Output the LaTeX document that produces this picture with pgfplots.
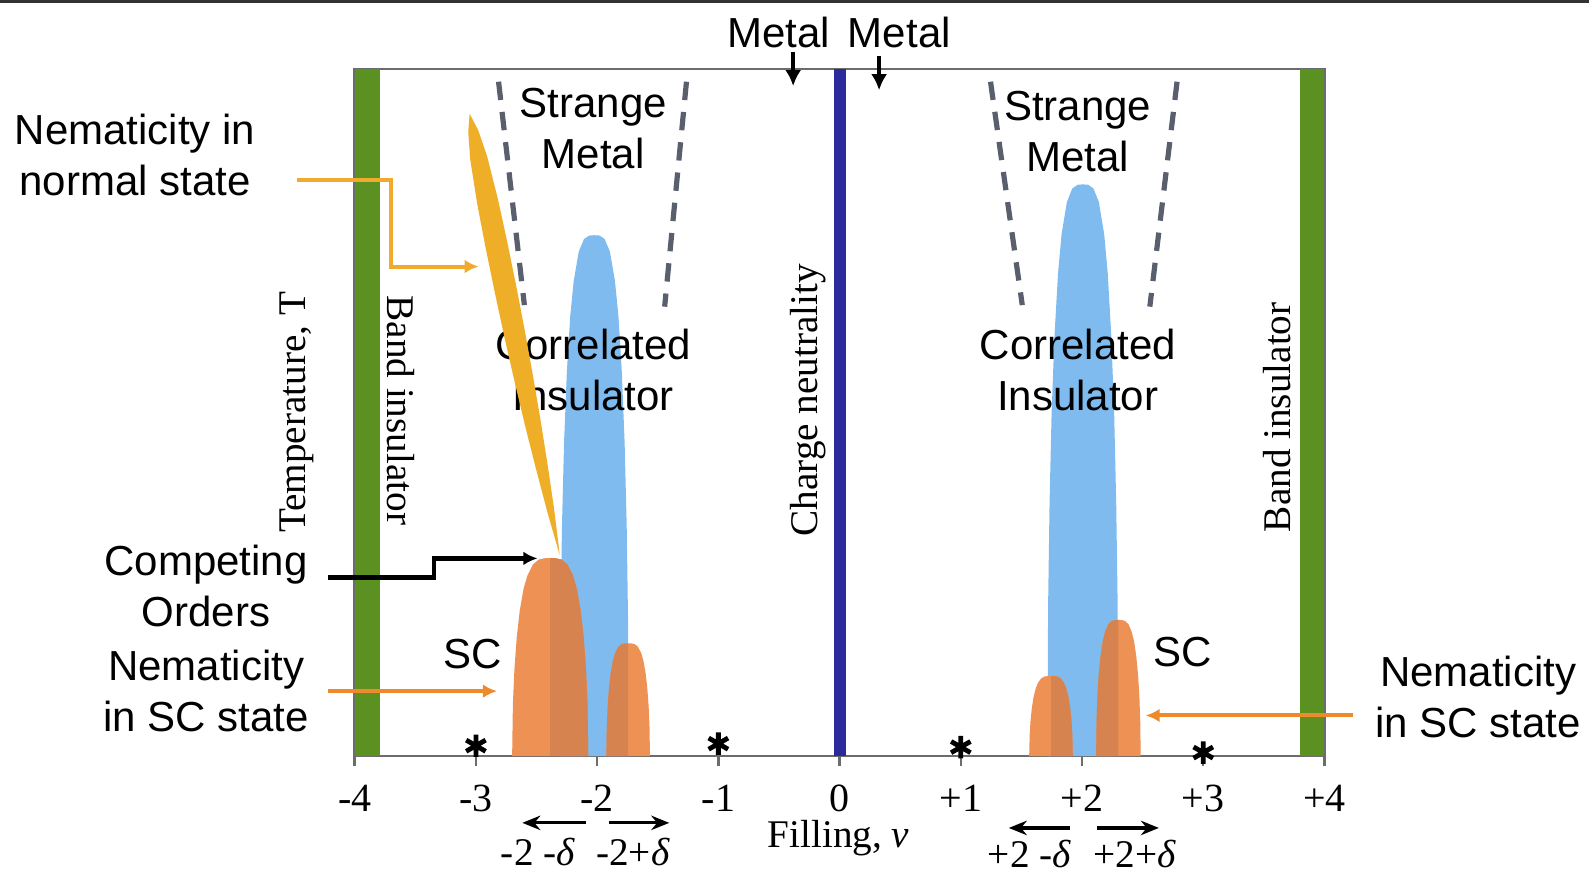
\documentclass[border=0pt]{standalone}
\usepackage{pgfplots}
\pgfplotsset{compat=1.18}
\usepackage{fontspec}
\setmainfont{Liberation Serif}
\newfontfamily\arial{Liberation Sans}
\usetikzlibrary{arrows.meta}
\definecolor{bandgreen}{RGB}{90,145,32}
\definecolor{cnblue}{RGB}{42,42,155}
\definecolor{ciblue}{RGB}{127,187,238}
\definecolor{scor}{RGB}{238,145,85}
\definecolor{scdark}{RGB}{214,131,80}
\definecolor{nemy}{RGB}{238,174,40}
\definecolor{dashg}{RGB}{90,95,110}
\definecolor{arry}{RGB}{240,170,45}
\definecolor{arro}{RGB}{238,138,42}
\newcommand\sfl{\arial\fontsize{10.5}{12.7}\selectfont}
\newcommand\srf{\fontsize{9.8}{11.5}\selectfont}
\begin{document}
\begin{tikzpicture}
\useasboundingbox (-88.67pt,-28.88pt) rectangle (308.58pt,189.0pt);
\begin{axis}[
  scale only axis, width=242.46pt, height=171.77pt,
  at={(0,0)}, anchor=south west,
  xmin=-4, xmax=4, ymin=0, ymax=100,
  clip=false,
  axis line style={draw=gray!85!black, line width=0.6pt},
  ytick=\empty,
  xtick={-4,-3,-2,-1,0,1,2,3,4},
  xticklabels={-4,-3,-2,-1,0,+1,+2,+3,+4},
  tick align=outside, xtick pos=left,
  major tick length=2.6pt,
  tick style={draw=gray!85!black, line width=0.6pt},
  xticklabel style={font=\fontsize{10}{11}\selectfont, anchor=base, yshift=-11.2pt},
]
% band insulators and charge neutrality
\addplot[fill=bandgreen, draw=none] coordinates {(-4,0) (-3.791,0) (-3.791,100) (-4,100)} -- cycle;
\addplot[fill=bandgreen, draw=none] coordinates {(3.796,0) (4,0) (4,100) (3.796,100)} -- cycle;
\addplot[fill=cnblue, draw=none] coordinates {(-0.05,0) (0.05,0) (0.05,100) (-0.05,100)} -- cycle;
% correlated insulator domes
\addplot[fill=ciblue, draw=none] coordinates {(-2.307,0) (-2.301,19.81) (-2.290,33.45) (-2.273,45.53) (-2.250,55.80) (-2.222,64.00) (-2.193,69.17) (-2.151,73.45) (-2.108,75.24) (-2.066,75.75) (-2.023,75.8) (-1.980,75.75) (-1.938,75.24) (-1.895,73.45) (-1.853,69.17) (-1.824,64.00) (-1.796,55.80) (-1.773,45.53) (-1.756,33.45) (-1.745,19.81) (-1.739,0)} -- cycle;
\addplot[fill=ciblue, draw=none] coordinates {(1.714,0) (1.720,21.74) (1.732,36.72) (1.749,49.97) (1.773,61.25) (1.802,70.25) (1.831,75.92) (1.875,80.62) (1.919,82.58) (1.963,83.14) (2.007,83.2) (2.051,83.14) (2.095,82.58) (2.139,80.62) (2.183,75.92) (2.212,70.25) (2.241,61.25) (2.265,49.97) (2.282,36.72) (2.294,21.74) (2.300,0)} -- cycle;
\node[font=\sfl, align=center] at (axis cs:-2.032,56.2) {Correlated\\Insulator};
\node[font=\sfl, align=center] at (axis cs:1.965,56.2) {Correlated\\Insulator};
% nematic normal state
\addplot[fill=nemy, draw=none] coordinates {(-3.052,93.5) (-2.981,91.09) (-2.908,87.33) (-2.817,80.96) (-2.738,74.54) (-2.664,68.11) (-2.594,61.67) (-2.528,55.21) (-2.465,48.73) (-2.407,42.24) (-2.353,35.74) (-2.308,29.20) (-2.411,35.53) (-2.506,41.89) (-2.597,48.26) (-2.683,54.65) (-2.766,61.05) (-2.844,67.46) (-2.919,73.89) (-2.989,80.34) (-3.047,86.83) (-3.063,90.79)} -- cycle;
% SC domes
\addplot[fill=scor, draw=none] coordinates {(-2.701,0) (-2.695,7.53) (-2.682,12.71) (-2.663,17.30) (-2.638,21.20) (-2.607,24.32) (-2.575,26.28) (-2.528,27.91) (-2.481,28.59) (-2.434,28.78) (-2.387,28.8) (-2.340,28.78) (-2.293,28.59) (-2.246,27.91) (-2.199,26.28) (-2.167,24.32) (-2.136,21.20) (-2.111,17.30) (-2.092,12.71) (-2.079,7.53) (-2.073,0)} -- cycle;
\addplot[fill=scdark, draw=none] coordinates {(-2.387,0) (-2.387,28.8) (-2.340,28.78) (-2.293,28.59) (-2.246,27.91) (-2.199,26.28) (-2.167,24.32) (-2.136,21.20) (-2.111,17.30) (-2.092,12.71) (-2.079,7.53) (-2.073,0)} -- cycle;
\addplot[fill=scor, draw=none] coordinates {(-1.924,0) (-1.920,4.29) (-1.913,7.24) (-1.902,9.85) (-1.888,12.07) (-1.870,13.85) (-1.852,14.97) (-1.825,15.89) (-1.798,16.28) (-1.771,16.39) (-1.744,16.4) (-1.717,16.39) (-1.690,16.28) (-1.663,15.89) (-1.636,14.97) (-1.618,13.85) (-1.600,12.07) (-1.586,9.85) (-1.575,7.24) (-1.568,4.29) (-1.564,0)} -- cycle;
\addplot[fill=scdark, draw=none] coordinates {(-1.924,0) (-1.920,4.29) (-1.913,7.24) (-1.902,9.85) (-1.888,12.07) (-1.870,13.85) (-1.852,14.97) (-1.825,15.89) (-1.798,16.28) (-1.771,16.39) (-1.744,16.4) (-1.744,0)} -- cycle;
\addplot[fill=scor, draw=none] coordinates {(1.564,0) (1.568,3.04) (1.575,5.14) (1.586,7.00) (1.600,8.58) (1.618,9.84) (1.636,10.63) (1.663,11.29) (1.690,11.56) (1.717,11.64) (1.744,11.65) (1.771,11.64) (1.798,11.56) (1.825,11.29) (1.852,10.63) (1.870,9.84) (1.888,8.58) (1.902,7.00) (1.913,5.14) (1.920,3.04) (1.924,0)} -- cycle;
\addplot[fill=scdark, draw=none] coordinates {(1.744,0) (1.744,11.65) (1.771,11.64) (1.798,11.56) (1.825,11.29) (1.852,10.63) (1.870,9.84) (1.888,8.58) (1.902,7.00) (1.913,5.14) (1.920,3.04) (1.924,0)} -- cycle;
\addplot[fill=scor, draw=none] coordinates {(2.116,0) (2.120,5.17) (2.127,8.74) (2.138,11.89) (2.153,14.58) (2.171,16.72) (2.190,18.07) (2.217,19.19) (2.245,19.65) (2.272,19.79) (2.300,19.8) (2.328,19.79) (2.355,19.65) (2.383,19.19) (2.410,18.07) (2.429,16.72) (2.447,14.58) (2.462,11.89) (2.473,8.74) (2.480,5.17) (2.484,0)} -- cycle;
\addplot[fill=scdark, draw=none] coordinates {(2.116,0) (2.120,5.17) (2.127,8.74) (2.138,11.89) (2.153,14.58) (2.171,16.72) (2.190,18.07) (2.217,19.19) (2.245,19.65) (2.272,19.79) (2.300,19.8) (2.300,0)} -- cycle;
% strange metal boundaries
\addplot[dashg, line width=1.3pt, dash pattern=on 4.6pt off 3pt] coordinates {(-2.813,98.14) (-2.600,65.63)};
\addplot[dashg, line width=1.3pt, dash pattern=on 4.6pt off 3pt] coordinates {(-1.263,98.14) (-1.443,65.4)};
\addplot[dashg, line width=1.3pt, dash pattern=on 4.6pt off 3pt] coordinates {(1.245,98.14) (1.507,65.63)};
\addplot[dashg, line width=1.3pt, dash pattern=on 4.6pt off 3pt] coordinates {(2.784,98.14) (2.559,65.4)};
% asterisks
\addplot[only marks, mark=asterisk, mark size=2.8pt, mark options={line width=1.2pt, black}] coordinates {(-3,1.5) (-1,1.8) (1,1.3) (3,0.5)};
% labels inside
\node[font=\sfl, align=center] at (axis cs:-2.032,91.3) {Strange\\Metal};
\node[font=\sfl, align=center] at (axis cs:1.965,90.86) {Strange\\Metal};
\node[font=\sfl] at (axis cs:-3.027,14.9) {SC};
\node[font=\sfl] at (axis cs:2.826,15.19) {SC};
\node[font=\srf, rotate=90] at (axis cs:-4.473,50.0) {Temperature, T};
\node[font=\srf, rotate=-90] at (axis cs:-3.620,50.3) {Band insulator};
\node[font=\srf, rotate=90] at (axis cs:-0.259,51.8) {Charge neutrality};
\node[font=\srf, rotate=90] at (axis cs:3.612,49.3) {Band insulator};
% top Metal labels
\node[font=\sfl] at (axis cs:-0.502,105.3) {Metal};
\node[font=\sfl] at (axis cs:0.493,105.3) {Metal};
\draw[black, line width=1.1pt, -{Latex[length=4pt,width=4pt]}] (axis cs:-0.383,102.4) -- (axis cs:-0.383,97.5);
\draw[black, line width=1.1pt, -{Latex[length=4pt,width=4pt]}] (axis cs:0.326,101.9) -- (axis cs:0.326,96.9);
% left annotations
\node[font=\sfl, align=center] at (axis cs:-5.811,87.46) {Nematicity in\\normal state};
\draw[arry, line width=1pt, -{Latex[length=3.5pt,width=3.4pt]}] (axis cs:-4.473,83.78) -- (axis cs:-3.704,83.78) -- (axis cs:-3.704,71.24) -- (axis cs:-2.977,71.24);
\node[font=\sfl, align=center] at (axis cs:-5.226,24.78) {Competing\\Orders};
\draw[black, line width=1.1pt, -{Latex[length=3.5pt,width=3.4pt]}] (axis cs:-4.222,25.96) -- (axis cs:-3.344,25.96) -- (axis cs:-3.344,28.76) -- (axis cs:-2.492,28.76);
\node[font=\sfl, align=center] at (axis cs:-5.226,9.44) {Nematicity\\in SC state};
\draw[arro, line width=1pt, -{Latex[length=3.5pt,width=3.4pt]}] (axis cs:-4.222,9.44) -- (axis cs:-2.826,9.44);
% right annotation
\node[font=\sfl, align=center] at (axis cs:5.268,8.55) {Nematicity\\in SC state};
\draw[arro, line width=1pt, -{Latex[length=3.5pt,width=3.4pt]}] (axis cs:4.239,5.90) -- (axis cs:2.525,5.90);
% below axis
\node[font=\srf] at (axis cs:-0.008,-12.0) {Filling, \textit{ν}};
\draw[black, line width=0.8pt, -{Stealth[length=4.5pt,width=3.6pt]}] (axis cs:-2.090,-9.73) -- (axis cs:-2.617,-9.73);
\draw[black, line width=0.8pt, -{Stealth[length=4.5pt,width=3.6pt]}] (axis cs:-1.906,-9.73) -- (axis cs:-1.405,-9.73);
\node[font=\srf] at (axis cs:-2.487,-13.92) {-2 -\textit{δ}};
\node[font=\srf] at (axis cs:-1.704,-13.92) {-2+\textit{δ}};
\draw[black, line width=0.8pt, -{Stealth[length=4.5pt,width=3.6pt]}] (axis cs:1.898,-10.47) -- (axis cs:1.396,-10.47);
\draw[black, line width=0.8pt, -{Stealth[length=4.5pt,width=3.6pt]}] (axis cs:2.124,-10.47) -- (axis cs:2.634,-10.47);
\node[font=\srf] at (axis cs:1.567,-14.3) {+2 -\textit{δ}};
\node[font=\srf] at (axis cs:2.437,-14.3) {+2+\textit{δ}};
\end{axis}
\fill[black!80] (-88.67pt,188.2pt) rectangle (308.58pt,189.0pt);
\end{tikzpicture}
\end{document}
